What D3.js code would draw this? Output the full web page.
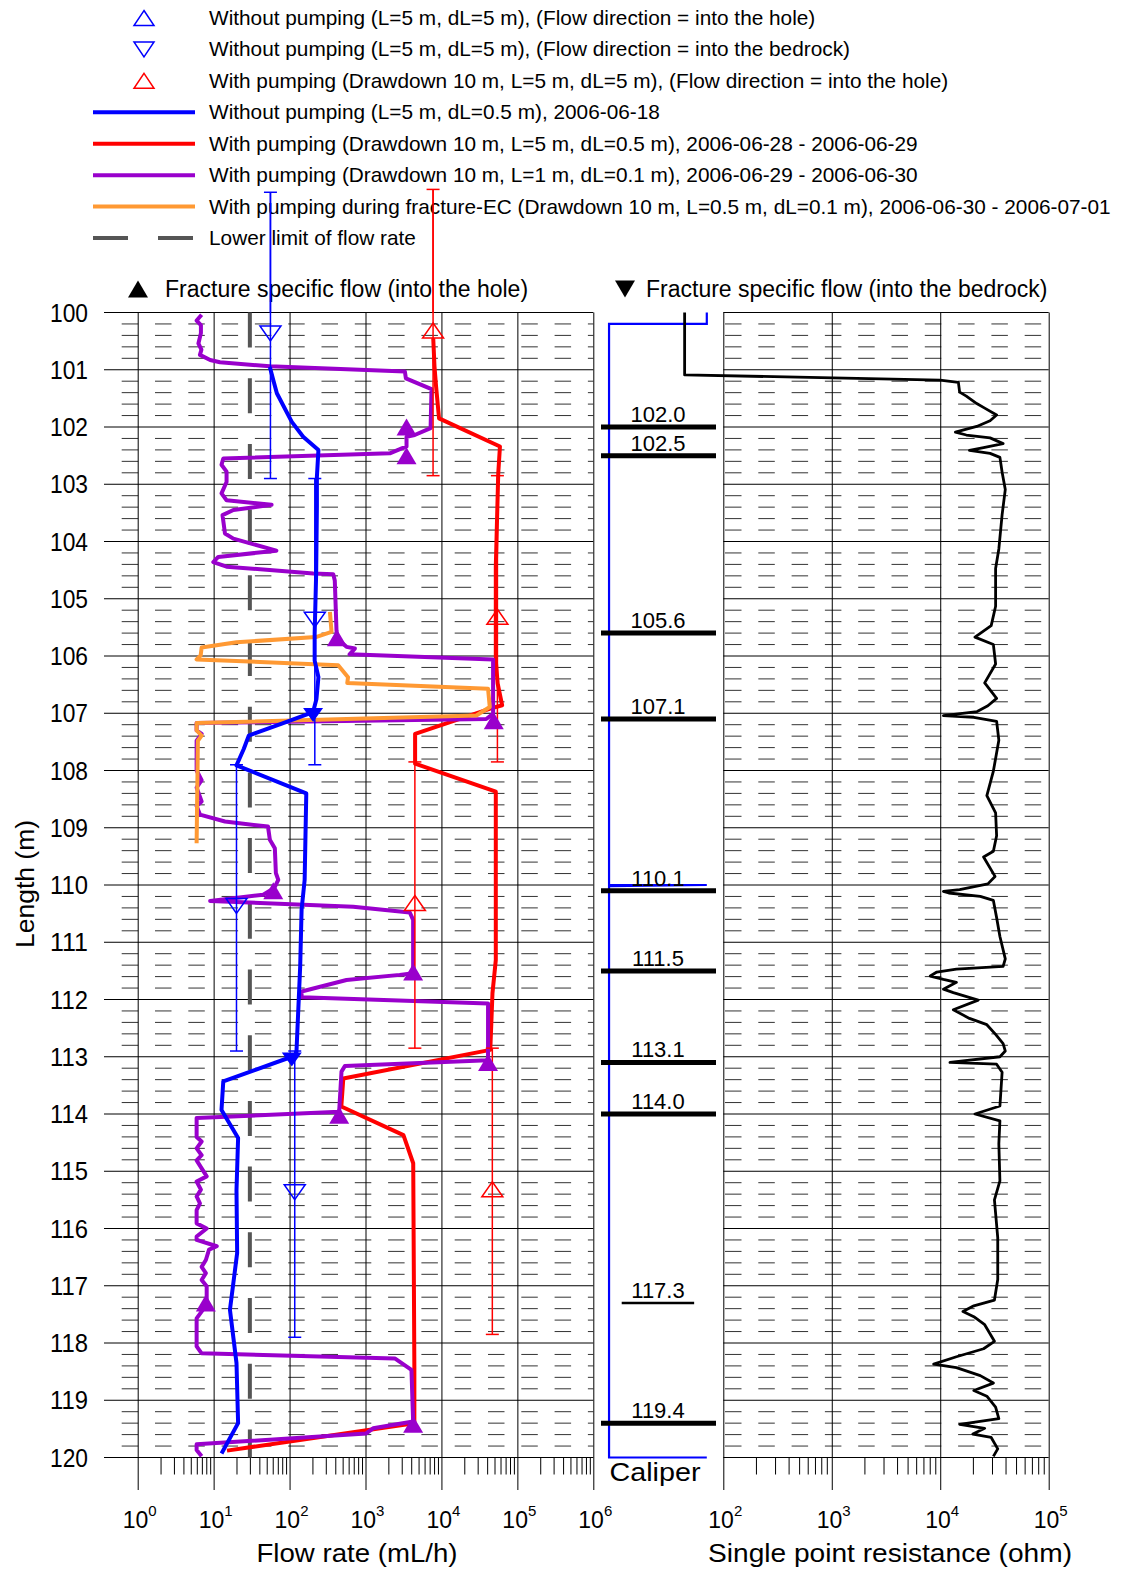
<!DOCTYPE html>
<html>
<head>
<meta charset="utf-8">
<script src="https://cdn.jsdelivr.net/npm/d3@7"></script>
<style>
  body { margin: 0; background: #fff; }
  svg { display: block; font-family: "Liberation Sans", Arial, sans-serif; }
</style>
</head>
<body>
<svg width="1121" height="1571"></svg>
<script>
// ---- data ----
var depthTicks = d3.range(100, 121, 1);
var flowDecades = [0, 1, 2, 3, 4, 5, 6];
var resDecades = [2, 3, 4, 5];

// [depth (m), flow (mL/h)]
var noPumpProfile = [[100.95, 55], [101.18, 61], [101.41, 68], [101.91, 107], [102.17, 151], [102.40, 240],
  [102.87, 229], [103.39, 229], [104.56, 224], [105.61, 214], [106.08, 214], [106.37, 240], [106.75, 226],
  [106.98, 204], [107.18, 79], [107.39, 29], [107.62, 25], [107.91, 20], [108.40, 166], [109.91, 158],
  [110.43, 144], [111.42, 138], [112.94, 123], [113.0, 107], [113.43, 13.4], [113.93, 12.7], [114.42, 21],
  [115.33, 20], [116.43, 20.4], [117.42, 16.4], [118.35, 20], [119.40, 21], [119.93, 12.7]];

var pumpProfile = [[100.45, 7800], [100.94, 8100], [101.29, 8500], [101.85, 9300], [102.34, 59000],
  [102.81, 56000], [104.44, 52000], [106.08, 52000], [106.48, 55000], [106.86, 63000], [106.92, 44000],
  [107.36, 4500], [107.88, 4500], [108.37, 52000], [111.31, 52000], [111.89, 47000], [112.88, 44000],
  [113.38, 510], [113.87, 480], [114.37, 3160], [114.86, 4250], [118.41, 4400], [119.40, 4400], [119.88, 15]];

var pumpFineProfile = [[100.04, 6.95], [100.14, 5.97], [100.22, 6.8], [100.36, 6.8], [100.54, 6.3],
  [100.65, 6.9], [100.74, 6.6], [100.83, 9.0], [100.87, 12.1], [100.94, 55], [101.03, 3300], [101.15, 3400],
  [101.34, 7400], [102.02, 7200], [102.14, 4450], [102.17, 3470], [102.34, 3470], [102.46, 2090],
  [102.55, 13.4], [102.66, 12.7], [102.78, 14.8], [102.96, 14.8], [103.16, 12.7], [103.28, 14.8],
  [103.36, 58], [103.45, 18.2], [103.54, 13.1], [103.86, 14.1], [103.95, 18.2], [104.16, 67], [104.27, 11.5],
  [104.36, 9.9], [104.44, 14.8], [104.56, 205], [104.57, 376], [104.68, 394], [105.55, 415], [105.70, 424],
  [105.84, 562], [105.87, 724], [105.97, 617], [106.06, 47900], [107.01, 47900], [107.10, 38900],
  [107.17, 5.97], [107.30, 5.97], [107.36, 6.95], [107.48, 5.97], [108.0, 5.97], [108.17, 6.95],
  [108.3, 5.97], [108.54, 6.95], [108.62, 5.97], [108.77, 6.6], [108.89, 14.1], [108.98, 52], [109.21, 55],
  [109.36, 64], [109.79, 66], [109.91, 71], [110.05, 63], [110.17, 45], [110.28, 9.0], [110.38, 689],
  [110.48, 3830], [110.61, 4240], [111.54, 4240], [111.57, 2820], [111.66, 562], [111.86, 144],
  [111.96, 144], [112.07, 41100], [113.06, 41100], [113.16, 535], [113.26, 483], [113.96, 450],
  [114.07, 5.97], [114.40, 5.97], [114.48, 6.95], [114.60, 5.97], [114.72, 6.95], [114.81, 5.97],
  [115.09, 8.1], [115.18, 5.97], [115.32, 6.8], [115.44, 5.97], [115.56, 6.6], [115.68, 5.97],
  [115.91, 5.97], [116.0, 8.1], [116.14, 5.97], [116.20, 5.97], [116.31, 11], [116.37, 8.7], [116.55, 7.9],
  [116.67, 6.95], [116.78, 7.9], [116.90, 6.95], [117.01, 8.1], [117.33, 8.1], [117.57, 5.97],
  [118.06, 5.97], [118.18, 6.95], [118.27, 2430], [118.47, 4030], [119.37, 4240], [119.49, 1260],
  [119.58, 1020], [119.77, 5.97], [119.87, 5.97], [119.98, 6.95]];

var fractureEcProfile = [[105.23, 340], [105.58, 357], [105.67, 222], [105.76, 20], [105.85, 6.95],
  [105.99, 6.75], [106.06, 5.97], [106.16, 437], [106.37, 589], [106.47, 575], [106.57, 41100],
  [106.89, 43300], [107.04, 28800], [107.17, 5.97], [107.30, 5.97], [107.39, 6.95], [107.48, 6.2],
  [109.27, 5.97]];

var lowerLimit = 30;

// 5 m sections: [top, bottom], flow
var noPumpSections = [[97.9, 102.9], [102.9, 107.9], [107.9, 112.9], [112.9, 117.9]];
var noPumpSectionFlow = [56, 215, 20, 117];
var pumpSections = [[97.85, 102.85], [102.85, 107.85], [107.85, 112.85], [112.85, 117.85]];
var pumpSectionFlow = [7760, 54600, 4470, 46800];

// fracture specific flow
var intoHoleFractures = [[102.0, 3470], [102.5, 3470], [105.68, 420], [107.13, 48900], [110.1, 61],
  [111.52, 4240], [113.1, 41100], [114.02, 450], [117.3, 7.9], [119.42, 4240]];
var intoBedrockFractures = [[107.03, 204], [113.05, 107]];

// fractures on caliper log
var fractureDepths = [102.0, 102.5, 105.6, 107.1, 110.1, 111.5, 113.1, 114.0, 117.3, 119.4];
var minorFracture = 117.3;

// caliper trace [depth, relative value]
var caliperTrace = [[100.0, 92], [100.2, 92], [100.2, 7], [110.0, 7], [110.0, 92], [110.02, 7],
  [120.0, 7], [120.0, 92]];

// single point resistance [depth, ohm]
var resistance = [[100.0, 44], [101.09, 44], [101.18, 9950], [101.22, 14700], [101.39, 15100],
  [101.46, 17400], [101.59, 21700], [101.67, 25700], [101.79, 33100], [101.89, 28800], [101.99, 21700],
  [102.09, 13800], [102.14, 17400], [102.19, 28800], [102.29, 38000], [102.36, 25100], [102.41, 18600],
  [102.46, 28800], [102.53, 35500], [102.79, 37200], [103.09, 39800], [103.53, 37200], [104.13, 34700],
  [104.47, 32400], [105.13, 32400], [105.47, 29500], [105.67, 20900], [105.80, 30900], [106.14, 32400],
  [106.47, 25700], [106.74, 33100], [106.87, 27500], [106.97, 21900], [107.04, 10700], [107.07, 20400],
  [107.14, 33100], [107.47, 34700], [108.01, 30900], [108.44, 26900], [108.74, 32400], [109.14, 33100],
  [109.41, 30900], [109.51, 25100], [109.85, 32000], [109.98, 27500], [110.08, 15100], [110.11, 10700],
  [110.14, 12000], [110.2, 23400], [110.27, 30900], [110.57, 33100], [110.9, 35500], [111.29, 39800],
  [111.42, 38000], [111.47, 14100], [111.52, 9300], [111.59, 8100], [111.65, 10700], [111.70, 14100],
  [111.82, 10700], [111.88, 13200], [112.01, 22400], [112.18, 13200], [112.33, 18600], [112.44, 26900],
  [112.61, 32400], [112.77, 38000], [112.90, 39800], [113.0, 35500], [113.10, 12300], [113.13, 33100],
  [113.27, 37200], [113.86, 35500], [114.0, 20900], [114.12, 35500], [114.52, 34700], [115.17, 35500],
  [115.50, 31600], [116.16, 33900], [116.89, 33900], [117.25, 31600], [117.35, 20400], [117.45, 16200],
  [117.54, 20400], [117.68, 25700], [117.97, 31600], [118.10, 25100], [118.24, 14100], [118.37, 8700],
  [118.43, 14100], [118.57, 23400], [118.70, 30900], [118.83, 20400], [118.93, 26900], [119.12, 32400],
  [119.32, 34700], [119.42, 15100], [119.49, 25700], [119.59, 20000], [119.65, 29500], [119.85, 33900],
  [119.98, 30900]];

var legendLabels = [
  "Without pumping (L=5 m, dL=5 m), (Flow direction = into the hole)",
  "Without pumping (L=5 m, dL=5 m), (Flow direction = into the bedrock)",
  "With pumping (Drawdown 10 m, L=5 m, dL=5 m), (Flow direction = into the hole)",
  "Without pumping (L=5 m, dL=0.5 m), 2006-06-18",
  "With pumping (Drawdown 10 m, L=5 m, dL=0.5 m), 2006-06-28 - 2006-06-29",
  "With pumping (Drawdown 10 m, L=1 m, dL=0.1 m), 2006-06-29 - 2006-06-30",
  "With pumping during fracture-EC (Drawdown 10 m, L=0.5 m, dL=0.1 m), 2006-06-30 - 2006-07-01",
  "Lower limit of flow rate"
];
var legendKinds = ["up", "down", "up", "line", "line", "line", "line", "dash"];
var legendColors = ["#0000ff", "#0000ff", "#ff0000", "#0000ff", "#ff0000", "#9900cc", "#ff9933", "#555555"];

// ---- setup ----
var svg = d3.select("svg");
var BLUE = "#0000ff", RED = "#ff0000", PURPLE = "#9900cc", ORANGE = "#ff9933";

var y = d3.scaleLinear().domain([100, 120]).range([312.5, 1457.5]);
var xFlow = d3.scaleLog().domain([1, 1e6]).range([137.7, 593.3]);
var xRes = d3.scaleLog().domain([100, 1e5]).range([723.3, 1048.7]);
var xCal = d3.scaleLinear().domain([0, 100]).range([601, 716]);

var minorDepths = d3.range(1, 100).map(i => 100 + i * 0.2).filter(d => d < 120 && Math.abs(d - Math.round(d)) > 0.01);

function triPath(cx, cy, w, h, up) {
  var t = up ? cy - h / 2 : cy + h / 2, b = up ? cy + h / 2 : cy - h / 2;
  return "M" + cx + "," + t + "L" + (cx + w / 2) + "," + b + "L" + (cx - w / 2) + "," + b + "Z";
}

//draw the grid for one log panel
function panelGrid(x, gridLeft, dashLeft, decades) {
  var x1 = x.range()[1];
  var g = svg.append("g");

  g.selectAll("line.minor").data(minorDepths).enter().append("line")
    .attr("class", "minor")
    .attr("x1", dashLeft).attr("x2", x1)
    .attr("y1", d => y(d)).attr("y2", d => y(d))
    .attr("stroke", "#333").attr("stroke-width", 1)
    .attr("stroke-dasharray", "16.5,16.8");

  g.selectAll("line.major").data(depthTicks).enter().append("line")
    .attr("class", "major")
    .attr("x1", gridLeft).attr("x2", x1)
    .attr("y1", d => y(d)).attr("y2", d => y(d))
    .attr("stroke", "#000").attr("stroke-width", 1);

  var decadeVals = decades.map(e => Math.pow(10, e));
  var minorVals = [];
  decades.slice(0, -1).forEach(e => { for (var k = 2; k < 10; k++) minorVals.push(k * Math.pow(10, e)); });

  // vertical decade lines through the panel
  g.append("g").attr("transform", "translate(0," + y(100) + ")")
    .call(d3.axisBottom(x).tickValues(decadeVals).tickSize(y(120) - y(100) + 32.5).tickFormat(""))
    .call(a => a.select(".domain").remove())
    .selectAll("line").attr("stroke", "#000");

  // minor ticks under the panel
  g.append("g").attr("transform", "translate(0," + y(120) + ")")
    .call(d3.axisBottom(x).tickValues(minorVals).tickSize(17).tickFormat(""))
    .call(a => a.select(".domain").remove());

  // labels 10^n as one text with a raised exponent
  var lab = g.selectAll("text.lab").data(decades).enter().append("text")
    .attr("class", "lab")
    .attr("x", d => x(Math.pow(10, d)) - 15).attr("y", 1528);
  lab.append("tspan").attr("font-size", 23).text("10");
  lab.append("tspan").attr("font-size", 15).attr("dy", -12).text(d => d);
}

panelGrid(xFlow, 104, 121.7, flowDecades);
panelGrid(xRes, 723.3, 725, resDecades);

// y labels
svg.append("g").selectAll("text").data(depthTicks).enter().append("text")
  .attr("x", 88).attr("y", d => y(d)).attr("dy", "0.36em")
  .attr("text-anchor", "end").attr("font-size", 25)
  .attr("textLength", 38).attr("lengthAdjust", "spacingAndGlyphs").text(d => d);

// axis titles
function title(x, yy, txt, len, rot) {
  svg.append("text")
    .attr("transform", "translate(" + x + "," + yy + ")" + (rot ? " rotate(-90)" : ""))
    .attr("text-anchor", "middle").attr("font-size", 26)
    .attr("textLength", len).attr("lengthAdjust", "spacingAndGlyphs").text(txt);
}
title(34, 884, "Length (m)", 128, true);
title(357, 1562, "Flow rate (mL/h)", 201, false);
title(890, 1562, "Single point resistance (ohm)", 364, false);
title(655, 1481, "Caliper", 91, false);

// headers
svg.append("path").attr("d", triPath(138, 289, 20, 17, true)).attr("fill", "#000");
svg.append("text").attr("x", 165).attr("y", 297).attr("font-size", 23).text("Fracture specific flow (into the hole)");
svg.append("path").attr("d", triPath(625, 289, 20, 17, false)).attr("fill", "#000");
svg.append("text").attr("x", 646).attr("y", 297).attr("font-size", 23).text("Fracture specific flow (into the bedrock)");

// lower limit
svg.append("line")
  .attr("x1", xFlow(lowerLimit)).attr("x2", xFlow(lowerLimit))
  .attr("y1", y(100)).attr("y2", y(120))
  .attr("stroke", "#555").attr("stroke-width", 4)
  .attr("stroke-dasharray", "35,30.7");

// profiles
var flowLine = d3.line().x(d => xFlow(d[1])).y(d => y(d[0]));
[[pumpProfile, RED], [pumpFineProfile, PURPLE], [fractureEcProfile, ORANGE], [noPumpProfile, BLUE]]
  .forEach(function (s) {
    svg.append("path").datum(s[0]).attr("d", flowLine)
      .attr("fill", "none").attr("stroke", s[1]).attr("stroke-width", 4)
      .attr("stroke-linejoin", "round");
  });

// 5 m sections with error bars
function sections(secs, flows, color, up) {
  var g = svg.append("g").attr("stroke", color).attr("stroke-width", 1.5).attr("fill", "none");
  secs.forEach(function (s, i) {
    var x = xFlow(flows[i]);
    g.append("line").attr("x1", x).attr("x2", x).attr("y1", y(s[0])).attr("y2", y(s[1]));
    g.append("line").attr("x1", x - 6.5).attr("x2", x + 6.5).attr("y1", y(s[0])).attr("y2", y(s[0]));
    g.append("line").attr("x1", x - 6.5).attr("x2", x + 6.5).attr("y1", y(s[1])).attr("y2", y(s[1]));
    g.append("path").attr("d", triPath(x, y((s[0] + s[1]) / 2) - 2, 21, 15, up));
  });
}
sections(noPumpSections, noPumpSectionFlow, BLUE, false);
sections(pumpSections, pumpSectionFlow, RED, true);

// fracture markers
svg.append("g").selectAll("path").data(intoHoleFractures).enter().append("path")
  .attr("d", d => triPath(xFlow(d[1]), y(d[0]), 20, 17, true)).attr("fill", PURPLE);
svg.append("g").selectAll("path").data(intoBedrockFractures).enter().append("path")
  .attr("d", d => triPath(xFlow(d[1]), y(d[0]), 20, 14, false)).attr("fill", BLUE);

// caliper
var calLine = d3.line().x(d => xCal(d[1])).y(d => y(d[0]));
svg.append("path").datum(caliperTrace).attr("d", calLine)
  .attr("fill", "none").attr("stroke", BLUE).attr("stroke-width", 2.2);

var fr = svg.append("g");
fr.selectAll("line").data(fractureDepths).enter().append("line")
  .attr("x1", d => d === minorFracture ? xCal(18) : xCal(0))
  .attr("x2", d => d === minorFracture ? xCal(81) : xCal(100))
  .attr("y1", d => y(d)).attr("y2", d => y(d))
  .attr("stroke", "#000").attr("stroke-width", d => d === minorFracture ? 2.5 : 5);
fr.selectAll("text").data(fractureDepths).enter().append("text")
  .attr("x", 658).attr("y", d => y(d) - 5).attr("text-anchor", "middle")
  .attr("font-size", 22).text(d => d.toFixed(1));

// resistance
var resLine = d3.line().x(d => xRes(d[1])).y(d => y(d[0]));
svg.append("path").datum(resistance).attr("d", resLine)
  .attr("fill", "none").attr("stroke", "#000").attr("stroke-width", 2.8)
  .attr("stroke-linejoin", "round");

// legend
var leg = svg.append("g").selectAll("g").data(legendLabels).enter().append("g")
  .attr("transform", (d, i) => "translate(0," + (18 + i * 31.43) + ")");
leg.append("text").attr("x", 209).attr("y", 7).attr("font-size", 20.8).text(d => d);
leg.each(function (d, i) {
  var g = d3.select(this), k = legendKinds[i], c = legendColors[i];
  if (k === "up" || k === "down") {
    g.append("path").attr("d", triPath(144, 0, 20, 15, k === "up"))
      .attr("fill", "none").attr("stroke", c).attr("stroke-width", 1.5);
  } else if (k === "line") {
    g.append("line").attr("x1", 93).attr("x2", 195).attr("stroke", c).attr("stroke-width", 4);
  } else {
    g.append("line").attr("x1", 93).attr("x2", 195).attr("stroke", c).attr("stroke-width", 4)
      .attr("stroke-dasharray", "35,30");
  }
});

// thin error-bar lines of the first sections cross the legend: redraw on top
svg.append("line").attr("x1", xFlow(noPumpSectionFlow[0])).attr("x2", xFlow(noPumpSectionFlow[0]))
  .attr("y1", y(noPumpSections[0][0])).attr("y2", y(100)).attr("stroke", BLUE).attr("stroke-width", 1.5);
svg.append("line").attr("x1", xFlow(pumpSectionFlow[0])).attr("x2", xFlow(pumpSectionFlow[0]))
  .attr("y1", y(pumpSections[0][0])).attr("y2", y(100)).attr("stroke", RED).attr("stroke-width", 1.5);
</script>
</body>
</html>
